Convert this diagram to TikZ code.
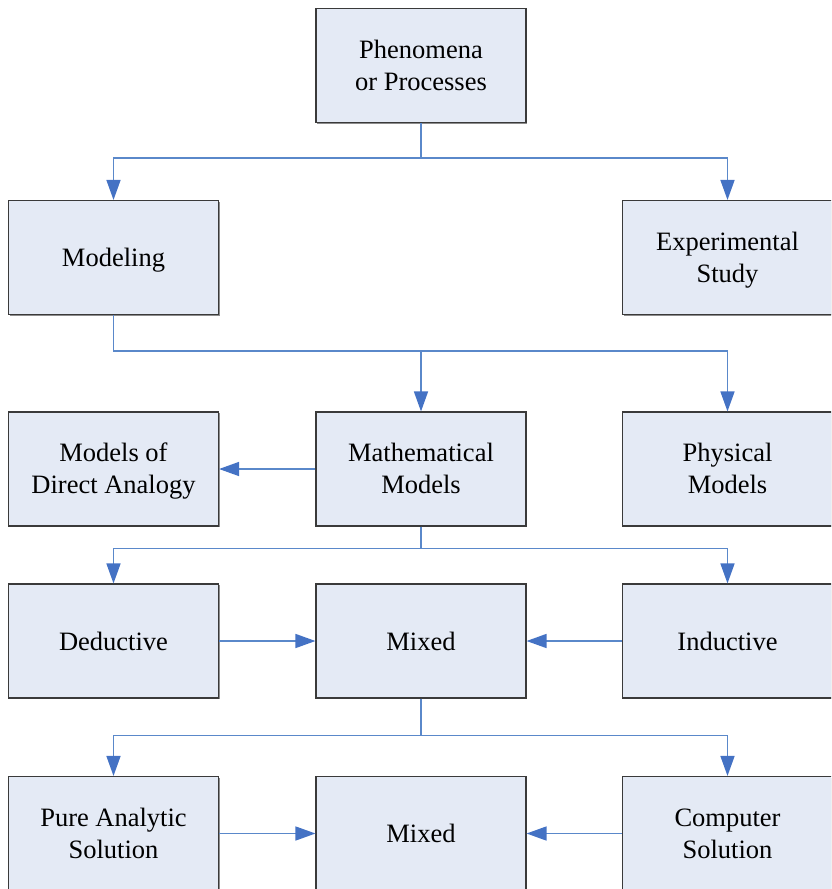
\documentclass[tikz,border=0pt]{standalone}
\usepackage{fontspec}
\setmainfont{Liberation Serif}
\usetikzlibrary{arrows.meta,shadows}
\definecolor{boxfill}{HTML}{E4EAF5}
\definecolor{boxline}{HTML}{3A3A3A}
\definecolor{conncol}{HTML}{5A88CA}
\definecolor{tipcol}{HTML}{4472C4}
\tikzset{
  box/.style={draw=boxline, line width=1.1pt, fill=boxfill, minimum width=210pt, minimum height=114pt,
    inner sep=0pt,
    drop shadow={shadow xshift=1.2pt, shadow yshift=-1.2pt, fill=black!45, opacity=1}},
  lbl/.style={align=center, font=\fontsize{26.5}{32}\selectfont, inner sep=0pt},
  conn/.style={draw=conncol, line width=1.5pt, -{Triangle[length=20pt,width=14pt,fill=tipcol,color=tipcol]}}
}
\begin{document}
\begin{tikzpicture}[x=1pt,y=-1pt]
\useasboundingbox (0,0) rectangle (831,889);
\clip (0,0) rectangle (831,889);
\node[box, label={[lbl]center:{Phenomena\\or Processes}}] (phen) at (421,65.5) {};
\node[box, label={[lbl, yshift=-3pt]center:{Modeling}}] (model) at (113.5,257.5) {};
\node[box, label={[lbl, yshift=-3pt]center:{Experimental\\Study}}] (exp) at (727.5,257.5) {};
\node[box, label={[lbl, yshift=-2pt]center:{Models of\\Direct Analogy}}] (analog) at (113.5,469) {};
\node[box, label={[lbl, yshift=1pt]center:{Mathematical\\Models}}] (math) at (421,469) {};
\node[box, label={[lbl, yshift=1pt]center:{Physical\\Models}}] (phys) at (727.5,469) {};
\node[box, label={[lbl]center:{Deductive}}] (ded) at (113.5,641) {};
\node[box, label={[lbl]center:{Mixed}}] (mix1) at (421,641) {};
\node[box, label={[lbl]center:{Inductive}}] (ind) at (727.5,641) {};
\node[box, label={[lbl]center:{Pure Analytic\\Solution}}] (pure) at (113.5,833.5) {};
\node[box, label={[lbl]center:{Mixed}}] (mix2) at (421,833.5) {};
\node[box, label={[lbl]center:{Computer\\Solution}}] (comp) at (727.5,833.5) {};

\draw[conn] (phen.south) -- ++(0,35) -| (model.north);
\draw[conn] (phen.south) -- ++(0,35) -| (exp.north);
\draw[conn] (model.south) -- ++(0,36) -| (math.north);
\draw[conn] (model.south) -- ++(0,36) -| (phys.north);
\draw[conn] (math.west) -- (analog.east);
\draw[conn] (math.south) -- ++(0,22) -| (ded.north);
\draw[conn] (math.south) -- ++(0,22) -| (ind.north);
\draw[conn] (ded.east) -- (mix1.west);
\draw[conn] (ind.west) -- (mix1.east);
\draw[conn] (mix1.south) -- ++(0,37) -| (pure.north);
\draw[conn] (mix1.south) -- ++(0,37) -| (comp.north);
\draw[conn] (pure.east) -- (mix2.west);
\draw[conn] (comp.west) -- (mix2.east);
\end{tikzpicture}
\end{document}
